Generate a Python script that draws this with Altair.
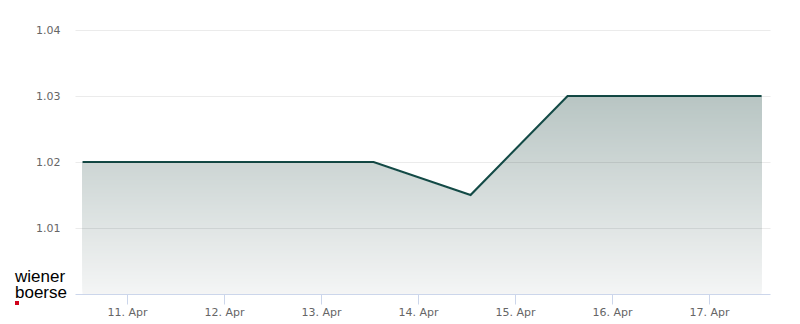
import altair as alt
import pandas as pd

# ---- data ----
dates = ["2024-04-10T13:00", "2024-04-11T13:00", "2024-04-12T13:00", "2024-04-13T13:00",
         "2024-04-14T13:00", "2024-04-15T13:00", "2024-04-16T13:00", "2024-04-17T13:00"]
prices = [1.02, 1.02, 1.02, 1.02, 1.015, 1.03, 1.03, 1.03]
y_ticks = [1.01, 1.02, 1.03, 1.04]
logo_lines = ["wiener", "boerse"]

df = pd.DataFrame({"date": dates, "price": prices})
df["top"] = 1.04

# ---- vertical fill shading (style only): stepped bands emulating a gradient ----
top_rgb = (184, 197, 195)
bot_rgb = (244, 245, 245)
y_lo, y_hi = 1.0, max(prices)
n_steps = 120
rows = []
for k in range(n_steps):
    lo = y_lo + (y_hi - y_lo) * k / n_steps
    t = (y_hi - (lo + (y_hi - y_lo) / n_steps / 2)) / (y_hi - y_lo)
    c = tuple(round(a + (b - a) * t) for a, b in zip(top_rgb, bot_rgb))
    rows.append({"x0": dates[0], "x1": dates[-1], "lo": lo, "hi": y_hi,
                 "c": "#%02x%02x%02x" % c, "k": k})
bands = pd.DataFrame(rows)

xscale = alt.Scale(domain=[alt.DateTime(year=2024, month=4, date=10, hours=11, minutes=8),
                           alt.DateTime(year=2024, month=4, date=17, hours=15, minutes=5)])
yscale = alt.Scale(domain=[1.0, 1.04], nice=False, zero=False)

x = alt.X("date:T", scale=xscale,
          axis=alt.Axis(title=None, format="%-d. %b", tickCount={"interval": "day", "step": 1},
                        domainColor="#ccd6eb", tickColor="#ccd6eb", tickSize=10,
                        labelColor="#666666", labelFontSize=11, labelPadding=2,
                        labelFont="DejaVu Sans", grid=False, zindex=1))
y = alt.Y("price:Q", scale=yscale,
          axis=alt.Axis(title=None, values=y_ticks, format=".2f", domain=False, ticks=False,
                        gridColor="#000000", gridOpacity=0.08, labelColor="#666666",
                        labelFontSize=11, labelPadding=15, labelFont="DejaVu Sans", zindex=1))

shade = alt.Chart(bands).mark_rect(opacity=1).encode(
    x=alt.X("x0:T", scale=xscale), x2="x1:T",
    y=alt.Y("lo:Q", scale=yscale), y2="hi:Q",
    color=alt.Color("c:N", scale=None),
    order=alt.Order("k:Q"),
)
mask = alt.Chart(df).mark_area(fill="white", stroke="white", strokeWidth=1.6, opacity=1).encode(
    x=x, y=y, y2="top:Q")
line = alt.Chart(df).mark_line(color="#134a46", strokeWidth=2.2).encode(x=x, y=y)

logo_df = pd.DataFrame({"t": logo_lines, "yy": [252, 268]})
logo = alt.Chart(logo_df).mark_text(
    align="left", baseline="alphabetic", font="Liberation Sans", fontSize=17, color="#000000"
).encode(x=alt.value(-60), y=alt.Y("yy:Q", scale=None), text="t:N")

dot = alt.Chart(pd.DataFrame({"a": [1]})).mark_square(color="#d0021b", size=16, opacity=1).encode(
    x=alt.value(-58), y=alt.value(273))

chart = alt.layer(shade, mask, line, logo, dot).properties(
    width=695, height=264,
    autosize=alt.AutoSizeParams(type="none"),
    padding={"left": 75, "top": 30, "right": 30, "bottom": 30},
).configure_view(stroke=None)

chart.save("out.html", embed_options={"renderer": "svg", "actions": False})
